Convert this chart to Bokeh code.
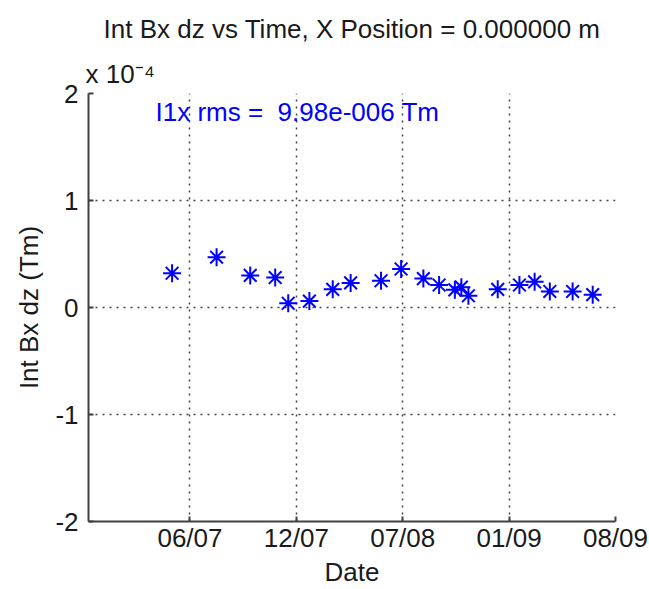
import pandas as pd
from bokeh.plotting import figure
from bokeh.models import FixedTicker, DatetimeTickFormatter, Label, Range1d, ColumnDataSource, Title
from bokeh.embed import file_html
from bokeh.resources import INLINE

# ---- data ----
dates = ["2007-05-13", "2007-08-03", "2007-10-04", "2007-11-19", "2007-12-13",
         "2008-01-21", "2008-03-04", "2008-04-06", "2008-06-01", "2008-07-08",
         "2008-08-18", "2008-09-16", "2008-10-15", "2008-10-27", "2008-11-09",
         "2009-01-02", "2009-02-11", "2009-03-11", "2009-04-08", "2009-05-20",
         "2009-06-26"]
int_bx_dz_e4 = [0.32, 0.47, 0.30, 0.28, 0.04,
                0.06, 0.17, 0.23, 0.25, 0.36,
                0.27, 0.21, 0.165, 0.19, 0.11,
                0.17, 0.21, 0.24, 0.15, 0.15,
                0.12]
tick_dates = ["2007-06-15", "2007-12-28", "2008-07-11", "2009-01-23", "2009-08-07"]
tick_labels = ["06/07", "12/07", "07/08", "01/09", "08/09"]
y_ticks = [-2, -1, 0, 1, 2]
y_tick_labels = ["-2", "-1", "0", "1", "2"]
x_start = "2006-12-10"
title_text = "Int Bx dz vs Time, X Position = 0.000000 m"
exponent_text = "x 10\u207b\u2074"
rms_text = "I1x rms =\u00a0 9.98e-006 Tm"

FONT = "Liberation Sans"
TXT = "#1a1a1a"

src = ColumnDataSource(dict(x=pd.to_datetime(dates), y=int_bx_dz_e4))
tick_ms = [pd.Timestamp(d).value // 10**6 for d in tick_dates]

p = figure(width=649, height=589, x_axis_type="datetime", output_backend="svg",
           toolbar_location=None, title=None,
           x_range=Range1d(pd.Timestamp(x_start), pd.Timestamp(tick_dates[-1])),
           y_range=Range1d(y_ticks[0], y_ticks[-1]),
           min_border_left=88, min_border_right=34, min_border_top=93, min_border_bottom=68)

# exponent (closest to the frame), then main title above it
p.add_layout(Title(text=exponent_text, align="left", offset=-3, standoff=9,
                   text_font=FONT, text_font_size="26px", text_font_style="normal",
                   text_color=TXT), "above")
p.add_layout(Title(text=title_text, align="center", standoff=18,
                   text_font=FONT, text_font_size="26px", text_font_style="normal",
                   text_color=TXT), "above")

p.outline_line_color = None
p.background_fill_color = "white"
p.border_fill_color = "white"

# x axis
p.xaxis.ticker = FixedTicker(ticks=tick_ms)
p.xaxis.formatter = DatetimeTickFormatter(days="%m/%y", months="%m/%y", years="%m/%y")
p.xaxis.major_label_overrides = {t: l for t, l in zip(tick_ms, tick_labels)}
p.xaxis.axis_label = "Date"
p.xaxis.major_label_standoff = 1
p.xaxis.axis_label_standoff = 1

# y axis
p.yaxis.ticker = FixedTicker(ticks=y_ticks)
p.yaxis.major_label_overrides = {t: l for t, l in zip(y_ticks, y_tick_labels)}
p.yaxis.axis_label = "Int Bx dz (Tm)"
p.yaxis.major_label_standoff = 10
p.yaxis.axis_label_standoff = 8

for ax in (p.xaxis, p.yaxis):
    ax.major_label_text_font = FONT
    ax.major_label_text_font_size = "26px"
    ax.major_label_text_color = TXT
    ax.axis_label_text_font = FONT
    ax.axis_label_text_font_size = "26px"
    ax.axis_label_text_font_style = "normal"
    ax.axis_label_text_color = TXT
    ax.axis_line_color = "#404040"
    ax.axis_line_width = 2
    ax.major_tick_line_color = "#404040"
    ax.major_tick_line_width = 2
    ax.major_tick_in = 5
    ax.major_tick_out = 0
    ax.minor_tick_line_color = None

p.xgrid.ticker = FixedTicker(ticks=tick_ms)
p.ygrid.ticker = FixedTicker(ticks=y_ticks)
p.grid.grid_line_color = "#404040"
p.grid.grid_line_width = 1.5
p.grid.grid_line_dash = "2 5"

p.scatter("x", "y", source=src, marker="asterisk", size=18,
          line_color="#0000ff", line_width=2)

# rms annotation
p.add_layout(Label(x=pd.Timestamp(x_start), y=y_ticks[-1], x_offset=67, y_offset=-18,
                   text=rms_text, text_font=FONT, text_font_size="26px",
                   text_color="#0000ff", text_baseline="middle"))

open("out.html", "w").write(file_html(p, INLINE))
